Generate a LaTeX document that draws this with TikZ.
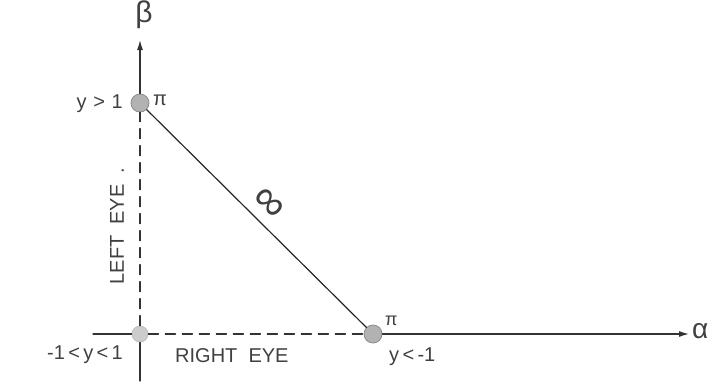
\documentclass[tikz,border=0pt]{standalone}
\usepackage{fontspec}
\setmainfont{Liberation Sans}
\usetikzlibrary{arrows.meta}

\begin{document}
\begin{tikzpicture}[x=1pt,y=-1pt,line cap=round,line join=round,>={Latex[length=10pt,width=6pt]},
  every node/.style={inner sep=1pt,font=\fontsize{20}{22}\selectfont,text=black!75},
  dot/.style={circle,draw=black!45,fill=black!30,line width=0.8pt,minimum size=18pt,inner sep=0pt},
  axis/.style={line width=1.2pt,draw=black!80},
  eyeline/.style={line width=1.4pt,draw=black!80,dash pattern=on 10pt off 7pt}]
  \useasboundingbox (0,0) rectangle (720,381);
  \def\ox{140}
  \def\oy{334}
  % points
  \node[dot] (pT) at (\ox,103) {};
  \node[dot,fill=black!20,draw=black!25,minimum size=16pt] (pO) at (\ox,\oy) {};
  \node[dot] (pR) at (373,\oy) {};
  \coordinate (bTop) at (\ox,40);
  \coordinate (bBot) at (\ox,381);
  \coordinate (aLeft) at (93,\oy);
  \coordinate (aRight) at (689,\oy);
  % axes
  \draw[axis,->] (pT) -- (bTop);
  \draw[eyeline] (pO) -- (pT);
  \draw[axis] (pO) -- (bBot);
  \draw[axis] (aLeft) -- (pO);
  \draw[eyeline] (pO) -- (pR);
  \draw[axis,->] (pR) -- (aRight);
  \draw[line width=1.2pt,black!85] (pT) -- (pR);
  % labels
  \node[font=\fontsize{30}{32}\selectfont] (beta) at (144,15) {β};
  \node[font=\fontsize{28}{30}\selectfont,anchor=west] (alpha) at (691,331) {α};
  \node[anchor=east] (lT) at (124,104) {y\,\,>\,\,1};
  \node[anchor=west] (piT) at (152,100) {π};
  \node[anchor=west,font=\fontsize{18}{20}\selectfont] (piR) at (384,321) {π};
  \node[anchor=west] (lR) at (388,357) {y\,<\,-1};
  \node[anchor=east] (lO) at (124,355) {-1\,<\,y\,<\,1};
  \node[anchor=west] (right) at (174,356) {RIGHT\ \ EYE};
  \node[rotate=90] (left) at (117,226) {LEFT\ \ EYE\ \ .};
  \node[rotate=-45,font=\fontsize{44}{46}\selectfont] (inf) at (268,204) {∞};
\end{tikzpicture}
\end{document}
